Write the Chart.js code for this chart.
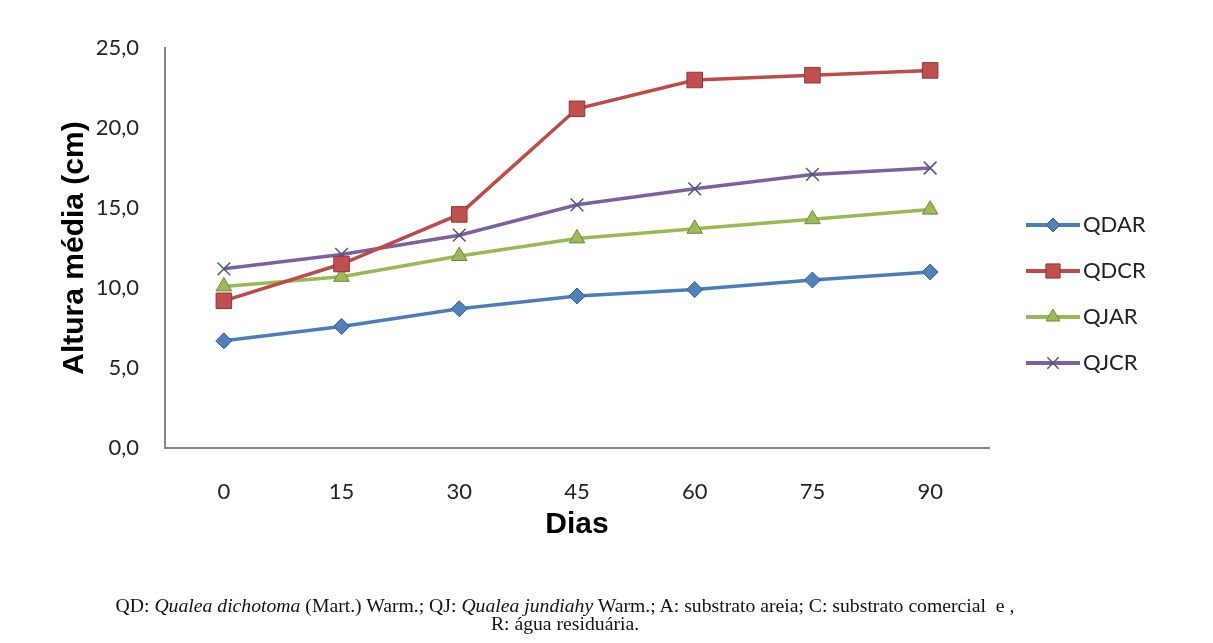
<!DOCTYPE html>
<html>
<head>
<meta charset="utf-8">
<script src="https://cdn.jsdelivr.net/npm/chart.js@4.4.1/dist/chart.umd.min.js"></script>
<style>
  html, body { margin: 0; padding: 0; background: #fff; }
  #wrap { position: relative; width: 1213px; height: 643px; }
  #caption {
    position: absolute; left: 100px; width: 930px; top: 596px;
    text-align: center; font-family: "Liberation Serif", "Times New Roman", serif;
    font-size: 19.7px; line-height: 18px; color: #111;
  }
</style>
</head>
<body>
<div id="wrap">
  <canvas id="myLineChart" width="1213" height="643"></canvas>
  <div id="caption">QD: <i>Qualea dichotoma</i> (Mart.) Warm.; QJ: <i>Qualea jundiahy</i> Warm.; A: substrato areia; C: substrato comercial&nbsp; e ,<br>R: água residuária.</div>
</div>
<script>
const days = ['0', '15', '30', '45', '60', '75', '90'];
const qdar = [6.7, 7.6, 8.7, 9.5, 9.9, 10.5, 11.0];
const qdcr = [9.2, 11.5, 14.6, 21.2, 23.0, 23.3, 23.6];
const qjar = [10.1, 10.7, 12.0, 13.1, 13.7, 14.3, 14.9];
const qjcr = [11.2, 12.1, 13.3, 15.2, 16.2, 17.1, 17.5];
const yTicks = [0, 5, 10, 15, 20, 25];

const tickFont = { family: 'Lato, "Liberation Sans", sans-serif', size: 22 };
const titleFont = { family: '"Liberation Sans", Arial, sans-serif', size: 30, weight: 'bold' };

// legend at the right, drawn by hand like the Excel one
const sideLegend = {
    id: 'sideLegend',
    afterDraw(chart) {
        const c = chart.ctx;
        chart.data.datasets.forEach((ds, i) => {
            const y = 225 + i * 46;
            const opts = {
                pointStyle: ds.pointStyle,
                radius: ds.pointRadius - 1,
                borderWidth: ds.pointBorderWidth
            };
            c.save();
            c.strokeStyle = ds.borderColor;
            c.lineWidth = 4;
            c.beginPath();
            c.moveTo(1026, y);
            c.lineTo(1080, y);
            c.stroke();
            c.fillStyle = ds.pointBackgroundColor;
            c.strokeStyle = ds.pointBorderColor;
            c.lineWidth = ds.pointBorderWidth;
            Chart.helpers.drawPoint(c, opts, 1053, y);
            c.fillStyle = '#222';
            c.font = '22px ' + tickFont.family;
            c.textBaseline = 'middle';
            c.fillText(ds.label, 1083, y);
            c.restore();
        });
    }
};

const data = {
    labels: days,
    datasets: [{
        label: 'QDAR',
        data: qdar,
        borderColor: '#4A7EBB',
        pointBackgroundColor: '#4F81BD',
        pointBorderColor: '#385D8A',
        pointStyle: 'rectRot',
        pointRadius: 8,
        pointBorderWidth: 1
    }, {
        label: 'QDCR',
        data: qdcr,
        borderColor: '#BE4B48',
        pointBackgroundColor: '#C0504D',
        pointBorderColor: '#8C3836',
        pointStyle: 'rect',
        pointRadius: 11,
        pointBorderWidth: 1
    }, {
        label: 'QJAR',
        data: qjar,
        borderColor: '#98B954',
        pointBackgroundColor: '#9BBB59',
        pointBorderColor: '#71893F',
        pointStyle: 'triangle',
        pointRadius: 9,
        pointBorderWidth: 1
    }, {
        label: 'QJCR',
        data: qjcr,
        borderColor: '#7D60A0',
        pointBackgroundColor: '#7D60A0',
        pointBorderColor: '#4B5A78',
        pointStyle: 'crossRot',
        pointRadius: 9,
        pointBorderWidth: 1.5
    }]
};

data.datasets.forEach(ds => {
    ds.borderWidth = 3.5;
    ds.tension = 0;
    ds.fill = false;
});

const config = {
    type: 'line',
    data: data,
    options: {
        responsive: false,
        animation: false,
        layout: { padding: { top: 48, right: 224, left: 0, bottom: 0 } },
        plugins: {
            legend: { display: false },
            tooltip: { enabled: false }
        },
        scales: {
            x: {
                offset: true,
                grid: { display: false, offset: true },
                border: { color: '#868686', width: 2 },
                ticks: { font: tickFont, color: '#222', padding: 23 },
                title: { display: true, text: 'Dias', font: titleFont, color: '#000', padding: { top: 0, bottom: 100 } },
                afterFit(scale) { scale.height = 195; }
            },
            y: {
                min: 0,
                max: 25,
                grid: { display: false },
                border: { color: '#868686', width: 2 },
                afterBuildTicks(scale) { scale.ticks = yTicks.map(v => ({ value: v })); },
                ticks: {
                    font: tickFont,
                    color: '#222',
                    padding: 18,
                    callback: v => v.toFixed(1).replace('.', ',')
                },
                title: { display: true, text: 'Altura média (cm)', font: titleFont, color: '#000', padding: { top: 57, bottom: 0 } },
                afterFit(scale) { scale.width = 165; }
            }
        }
    },
    plugins: [sideLegend]
};

const ctx = document.getElementById('myLineChart').getContext('2d');
const myLineChart = new Chart(ctx, config);
</script>
</body>
</html>
